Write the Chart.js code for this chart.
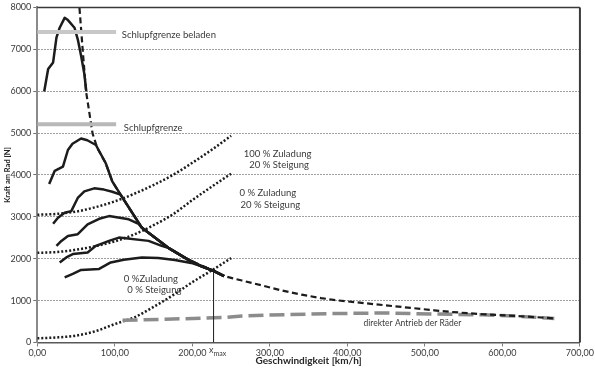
<!DOCTYPE html>
<html><head><meta charset="utf-8">
<script src="https://cdn.jsdelivr.net/npm/chart.js@4/dist/chart.umd.min.js"></script>
<style>html,body{margin:0;padding:0;background:#fff}#wrap{width:595px;height:372px;position:relative}</style>
</head><body><div id="wrap"><canvas id="c" width="595" height="372"></canvas></div>
<script>
// ---- data (v in km/h, F in N) ----
const xTickValues = [0, 100, 200, 300, 400, 500, 600, 700];
const yTickValues = [0, 1000, 2000, 3000, 4000, 5000, 6000, 7000, 8000];

const schlupfgrenzeBeladen = [[0, 7413], [101.7, 7413]];
const schlupfgrenze = [[0, 5212], [101.7, 5212]];

// common envelope (Leistungshyperbel), where the gear curves merge
const huellkurve = [[75.6, 4715], [88.3, 4279], [96.7, 3846], [107.4, 3531], [135, 2737], [169, 2260], [194.5, 1980], [212, 1820], [228.7, 1700], [241, 1584]];

const gang1 = [[8.9, 5993], [14, 6528], [20.4, 6686], [24.7, 7278], [28.9, 7515], [35.3, 7751], [39.5, 7697], [48, 7515], [52.2, 7238], [56.5, 6845], [60.7, 6410], [63.2, 5993]];
const gang2 = [[15.3, 3782], [22.5, 4099], [33.1, 4201], [39.5, 4596], [45.4, 4745], [56.5, 4871], [64.5, 4828]];
const gang3 = [[20.4, 2835], [26.7, 2978], [35.3, 3096], [43.8, 3136], [52.2, 3451], [60.7, 3609], [73.4, 3680], [86, 3650], [96.7, 3600]];
const gang4 = [[24.7, 2308], [31.1, 2426], [39.5, 2544], [52.2, 2585], [64.9, 2821], [79.8, 2954], [92.5, 3018], [118, 2940], [130.7, 2830]];
const gang5 = [[28.9, 1912], [37.4, 2031], [45.8, 2111], [64.9, 2149], [75.6, 2308], [92.5, 2426], [105.3, 2504], [143.5, 2426], [160.4, 2308]];
const gang6 = [[35.3, 1557], [45.8, 1638], [56.5, 1732], [79.8, 1756], [94.7, 1912], [111.6, 1976], [134.9, 2031], [156.2, 2017], [177.4, 1969], [198.5, 1900]];

const hyperbel = [[54.4, 7988], [58.5, 7001], [62.9, 5993], [71.3, 4989], [77.6, 4634], [88.3, 4279], [96.7, 3846], [107.4, 3531], [135, 2737], [169, 2260], [194.5, 1980], [228.7, 1700], [241, 1584], [264, 1479], [290, 1361], [315, 1243], [341, 1141], [366, 1060], [387, 1006], [428, 928], [470, 848], [512, 769], [534, 729], [574, 675], [616, 635], [659, 587], [667, 572]];

const direkterAntrieb = [[110, 530], [175, 560], [240, 596], [264, 630], [300, 655], [380, 690], [450, 705], [512, 680], [575, 660], [617, 632], [667, 572]];

const widerstand100_20 = [[0, 3050], [25, 3070], [50, 3125], [75, 3230], [100, 3370], [125, 3550], [150, 3760], [175, 4000], [200, 4290], [225, 4600], [250, 4935]];
const widerstand0_20 = [[0, 2140], [25, 2160], [50, 2215], [75, 2300], [100, 2415], [125, 2580], [150, 2800], [175, 3060], [200, 3400], [225, 3720], [250, 4030]];
const widerstand0_0 = [[0, 100], [25, 120], [50, 165], [75, 270], [100, 440], [125, 600], [150, 850], [175, 1130], [200, 1440], [225, 1720], [250, 2015]];

const xmaxLinie = [[227.4, 0], [227.4, 1710]];

// ---- helpers ----
const pts = arr => arr.map(p => ({x: p[0], y: p[1]}));
const withEnvelope = arr => pts(arr.concat(huellkurve.filter(p => p[0] > arr[arr.length - 1][0])));

const FONT = 'Lato, "Open Sans", "DejaVu Sans", sans-serif';
const TXT = '#3a3a3a';

const annotations = [
  {t: 'Schlupfgrenze beladen', x: 109, y: 7342, align: 'left', size: 9.5},
  {t: 'Schlupfgrenze', x: 111.6, y: 5124, align: 'left', size: 9.5},
  {t: '100 % Zuladung', x: 310, y: 4509, align: 'center', size: 9.5},
  {t: '20 % Steigung', x: 312, y: 4237, align: 'center', size: 9.5},
  {t: '0 % Zuladung', x: 297.5, y: 3569, align: 'center', size: 9.5},
  {t: '20 % Steigung', x: 300.6, y: 3278, align: 'center', size: 9.5},
  {t: '0 %Zuladung', x: 146.6, y: 1520, align: 'center', size: 9.5},
  {t: '0 % Steigung', x: 151, y: 1266, align: 'center', size: 9.5},
  {t: 'direkter Antrieb der Räder', x: 483.9, y: 454, align: 'center', size: 8.5}
];

const annotPlugin = {
  id: 'annot',
  afterDraw(chart) {
    const {ctx, chartArea: a, scales: {x, y}} = chart;
    ctx.save();
    // frame: top and right
    ctx.strokeStyle = '#3a3a3a';
    ctx.lineWidth = 1.5;
    ctx.beginPath(); ctx.moveTo(a.left, a.top); ctx.lineTo(a.right, a.top); ctx.stroke();
    ctx.lineWidth = 2;
    ctx.beginPath(); ctx.moveTo(a.right, a.top); ctx.lineTo(a.right, a.bottom); ctx.stroke();
    ctx.fillStyle = TXT;
    ctx.textBaseline = 'middle';
    annotations.forEach(l => {
      ctx.font = l.size + 'px ' + FONT;
      ctx.textAlign = l.align;
      ctx.fillText(l.t, x.getPixelForValue(l.x), y.getPixelForValue(l.y));
    });
    // x_max label below the axis
    const px = x.getPixelForValue(xmaxLinie[0][0]);
    ctx.textAlign = 'left';
    ctx.font = '9px ' + FONT;
    ctx.fillText('x', px - 4.5, a.bottom + 7.5);
    ctx.font = '7px ' + FONT;
    ctx.fillText('max', px, a.bottom + 11);
    ctx.restore();
  }
};

const solid = (data, order) => ({data, borderColor: '#1c1c1c', borderWidth: 2.5, pointRadius: 0, showLine: true, tension: 0, order, borderJoinStyle: 'round'});
const dotted = (data) => ({data: pts(data), borderColor: '#1c1c1c', borderWidth: 2.5, borderDash: [2, 2], pointRadius: 0, showLine: true, cubicInterpolationMode: 'monotone', order: 6});

new Chart(document.getElementById('c'), {
  type: 'scatter',
  data: {
    datasets: [
      {data: pts(schlupfgrenzeBeladen), borderColor: '#c8c8c8', borderWidth: 4, pointRadius: 0, showLine: true, order: 1},
      {data: pts(schlupfgrenze), borderColor: '#b8b8b8', borderWidth: 4, pointRadius: 0, showLine: true, order: 1},
      solid(pts(gang1), 2),
      solid(withEnvelope(gang2), 2),
      solid(withEnvelope(gang3), 2),
      solid(withEnvelope(gang4), 2),
      solid(withEnvelope(gang5), 2),
      solid(withEnvelope(gang6), 2),
      {data: pts(hyperbel), borderColor: '#1c1c1c', borderWidth: 2.2, borderDash: [6, 3.5], pointRadius: 0, showLine: true, order: 4},
      {data: pts(direkterAntrieb), borderColor: '#8c8c8c', borderWidth: 3.5, borderDash: [15, 6], pointRadius: 0, showLine: true, order: 5},
      dotted(widerstand100_20),
      dotted(widerstand0_20),
      dotted(widerstand0_0),
      {data: pts(xmaxLinie), borderColor: '#1c1c1c', borderWidth: 1, pointRadius: 0, showLine: true, order: 3}
    ]
  },
  options: {
    responsive: false,
    animation: false,
    devicePixelRatio: 1,
    layout: {padding: {top: 4.5, right: 8, left: 0, bottom: 0}},
    plugins: {legend: {display: false}, tooltip: {enabled: false}},
    scales: {
      x: {
        type: 'linear', min: 0, max: 700,
        afterBuildTicks: s => { s.ticks = xTickValues.map(v => ({value: v})); },
        afterFit: s => { s.height = 29.5; },
        ticks: {callback: v => v.toFixed(2).replace('.', ','), font: {family: FONT, size: 9}, color: TXT, padding: 1, maxRotation: 0, autoSkip: false},
        grid: {drawOnChartArea: false, drawTicks: true, tickLength: 4, color: '#7f7f7f'},
        border: {display: true, color: '#595959', width: 1.5},
        title: {display: true, text: 'Geschwindigkeit [km/h]', font: {family: FONT, size: 10, weight: 'bold'}, color: '#262626', padding: {top: 0, bottom: 5}}
      },
      y: {
        type: 'linear', min: 0, max: 8000,
        afterBuildTicks: s => { s.ticks = yTickValues.map(v => ({value: v})); },
        afterFit: s => { s.width = 37.3; },
        ticks: {callback: v => String(v), font: {family: FONT, size: 9}, color: TXT, padding: 2},
        grid: {
          color: c => (c.tick && (c.tick.value === 0 || c.tick.value === 8000)) ? 'rgba(0,0,0,0)' : '#a0a0a0',
          tickColor: '#6f6f6f', lineWidth: 1, tickLength: 4, drawTicks: true
        },
        border: {display: true, color: '#8a8a8a', width: 2, dash: [2, 1]},
        title: {display: true, text: 'Kraft am Rad [N]', font: {family: FONT, size: 7.5, weight: 'bold'}, color: '#262626', padding: {top: 3, bottom: 0}}
      }
    }
  },
  plugins: [annotPlugin]
});
</script>
</body></html>
